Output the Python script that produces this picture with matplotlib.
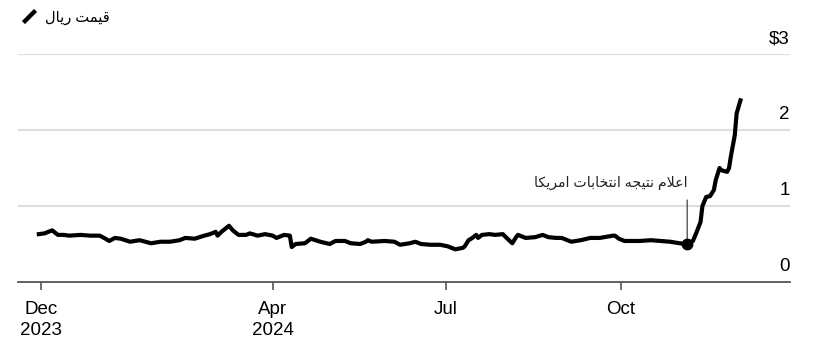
import pandas as pd
import matplotlib
matplotlib.use('Agg')
import matplotlib.pyplot as plt
import matplotlib.transforms as mtransforms
from matplotlib.lines import Line2D

plt.rcParams['font.family'] = ['Liberation Sans', 'DejaVu Sans']

# rial price (USD, per 100k rial); days counted from 1 Dec 2023
start = pd.Timestamp('2023-12-01')
day_offsets = [-1, 2, 6, 9, 12, 15, 21, 26, 31, 34, 36, 39, 42, 47, 52, 58, 63, 68,
               73, 76, 81, 86, 89, 92, 93, 95, 99, 101, 104, 108, 110, 114, 118, 122,
               124, 128, 131, 132, 134, 139, 142, 147, 152, 155, 160, 163, 168, 171,
               172, 174, 181, 186, 189, 194, 197, 200, 205, 210, 214, 218, 222, 223,
               225, 227, 229, 230, 232, 236, 239, 243, 245, 248, 250, 251, 255, 260,
               264, 267, 271, 274, 279, 284, 289, 294, 301, 302, 304, 307, 310, 315,
               321, 326, 331, 336, 340, 343, 345, 347, 348, 350, 352, 354, 355, 357,
               358, 361, 362, 363, 365, 366, 368]
rial_price = [0.63, 0.64, 0.68, 0.62, 0.62, 0.61, 0.62, 0.61, 0.61, 0.57, 0.54, 0.58,
              0.57, 0.53, 0.55, 0.51, 0.53, 0.53, 0.55, 0.58, 0.57, 0.61, 0.63, 0.66,
              0.61, 0.66, 0.74, 0.68, 0.62, 0.62, 0.64, 0.61, 0.63, 0.61, 0.58, 0.62,
              0.61, 0.46, 0.50, 0.51, 0.57, 0.53, 0.50, 0.54, 0.54, 0.51, 0.50, 0.53,
              0.55, 0.53, 0.54, 0.53, 0.49, 0.51, 0.53, 0.50, 0.49, 0.49, 0.47, 0.43,
              0.45, 0.47, 0.55, 0.58, 0.62, 0.58, 0.62, 0.63, 0.62, 0.63, 0.58, 0.51,
              0.59, 0.62, 0.58, 0.59, 0.62, 0.59, 0.58, 0.58, 0.53, 0.55, 0.58, 0.58,
              0.61, 0.61, 0.57, 0.54, 0.54, 0.54, 0.55, 0.54, 0.53, 0.51, 0.50, 0.54,
              0.66, 0.79, 1.00, 1.12, 1.13, 1.21, 1.34, 1.50, 1.47, 1.45, 1.50, 1.66,
              1.93, 2.22, 2.39]

event_day = 340
event_label = 'اعلام نتیجه انتخابات امریکا'
series_label = 'قیمت ریال'

y_ticks = [0, 1, 2, 3]
y_tick_labels = ['0', '1', '2', '$3']
x_ticks = ['2023-12-01', '2024-04-01', '2024-07-01', '2024-10-01']
x_tick_labels = ['Dec\n2023', 'Apr\n2024', 'Jul', 'Oct']

# crude persian shaping: pick contextual presentation forms, then reverse for LTR drawing
FORMS = {
    'ق': '\ufed5\ufed6\ufed7\ufed8', 'ی': '\ufbfc\ufbfd\ufbfe\ufbff',
    'م': '\ufee1\ufee2\ufee3\ufee4', 'ت': '\ufe95\ufe96\ufe97\ufe98',
    'ل': '\ufedd\ufede\ufedf\ufee0', 'ع': '\ufec9\ufeca\ufecb\ufecc',
    'ن': '\ufee5\ufee6\ufee7\ufee8', 'ج': '\ufe9d\ufe9e\ufe9f\ufea0',
    'ه': '\ufee9\ufeea\ufeeb\ufeec', 'خ': '\ufea5\ufea6\ufea7\ufea8',
    'ب': '\ufe8f\ufe90\ufe91\ufe92', 'ک': '\ufb8e\ufb8f\ufb90\ufb91',
    'ر': '\ufead\ufeae', 'ا': '\ufe8d\ufe8e', 'د': '\ufea9\ufeaa',
}


def shape(text):
    def joins_next(c):
        return c in FORMS and len(FORMS[c]) == 4
    out = []
    i = 0
    while i < len(text):
        c = text[i]
        if c not in FORMS:
            out.append(c)
            i += 1
            continue
        con_prev = i > 0 and joins_next(text[i - 1])
        if c == 'ل' and i + 1 < len(text) and text[i + 1] == 'ا':
            out.append('\ufefc' if con_prev else '\ufefb')
            i += 2
            continue
        con_next = joins_next(c) and i + 1 < len(text) and text[i + 1] in FORMS
        f = FORMS[c]
        if con_prev and con_next:
            g = f[3]
        elif con_prev:
            g = f[1]
        elif con_next:
            g = f[2]
        else:
            g = f[0]
        out.append(g)
        i += 1
    return ''.join(reversed(out))


dates = start + pd.to_timedelta(day_offsets, unit='D')
s = pd.Series(rial_price, index=dates)
event_date = start + pd.Timedelta(days=event_day)

fig = plt.figure(figsize=(8.16, 3.47), dpi=100)
ax = fig.add_axes([0.022, 0.1873, 0.946, 0.657])

ax.plot(s.index, s.values, color='black', lw=3.0, solid_joinstyle='round', zorder=3)
ax.plot([event_date], [s[event_date]], 'o', color='black', ms=7.5, zorder=4)
ax.annotate(shape(event_label), xy=(event_date, s[event_date]), xytext=(event_date, 1.30),
            ha='right', va='center', fontsize=10.2, color='#222222',
            arrowprops=dict(arrowstyle='-', color='#555555', lw=1.0,
                            relpos=(1.0, 0.0), shrinkA=5, shrinkB=0))

ax.set_xlim(start - pd.Timedelta(days=12), start + pd.Timedelta(days=394))
ax.set_ylim(0, 3)

for v in y_ticks[1:]:
    ax.axhline(v, color='#dddddd', lw=1.5, zorder=1)
ytrans = mtransforms.offset_copy(ax.get_yaxis_transform(), fig=fig, y=11, units='dots')
for v, lab in zip(y_ticks, y_tick_labels):
    ax.text(1.0, v, lab.replace('$', r'\$'), transform=ytrans, ha='right',
            va='baseline', fontsize=13.5, color='black')
ax.set_yticks([])

for side in ['top', 'right', 'left']:
    ax.spines[side].set_visible(False)
ax.spines['bottom'].set_color('#555555')
ax.spines['bottom'].set_linewidth(1.3)

ax.set_xticks(pd.to_datetime(x_ticks))
ax.set_xticklabels(x_tick_labels, fontsize=13.5, linespacing=1.3)
ax.tick_params(axis='x', length=6, width=1.2, color='#555555', pad=7.5)

key = Line2D([], [], linestyle='none', marker=(2, 2, -45), color='black',
             markeredgewidth=2.8, markersize=12)
fig.legend([key], [shape(series_label)], loc='upper left', bbox_to_anchor=(0.010, 1.008),
           frameon=False, fontsize=10.5, handlelength=1.0, handletextpad=0.6)

fig.savefig('out.png', dpi=100)
